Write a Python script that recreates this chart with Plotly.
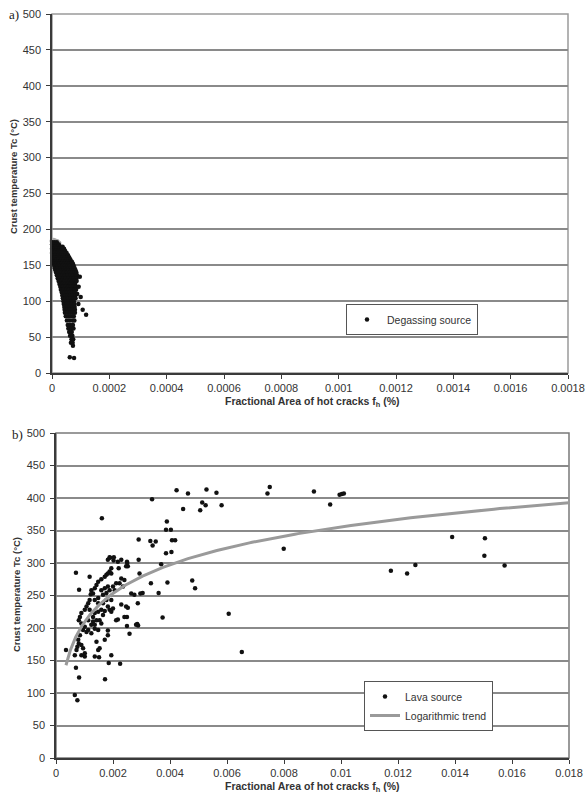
import numpy as np
import plotly.graph_objects as go

# ---------------- data: panel a (degassing source) ----------------
# x in units of 1e-6 (fractional area), y in deg C
DEG_X_MICRO = [
    1, 9, 17,
    0, 7, 15, 24,
    2, 11, 20, 30, 37,
    0, 8, 16, 25, 34, 42,
    3, 12, 21, 29, 38, 46,
    0, 9, 18, 27, 35, 44, 51,
    4, 13, 22, 31, 40, 48, 56,
    1, 10, 19, 28, 37, 45, 53, 60,
    5, 14, 23, 32, 41, 50, 58, 64,
    2, 11, 20, 29, 38, 47, 55, 63, 69,
    6, 15, 24, 33, 42, 51, 60, 68, 73,
    8, 18, 27, 36, 45, 54, 62, 71, 76,
    10, 20, 29, 38, 47, 56, 65, 74, 79,
    12, 22, 31, 40, 49, 58, 67, 76, 82,
    14, 24, 33, 42, 52, 61, 70, 79, 85,
    17, 27, 36, 45, 55, 64, 73, 82, 87,
    20, 30, 39, 48, 58, 67, 76, 85,
    23, 33, 42, 51, 61, 70, 79, 86,
    26, 35, 45, 54, 63, 72, 81,
    29, 38, 47, 56, 66, 75, 83,
    31, 40, 50, 59, 68, 77, 84,
    34, 43, 52, 61, 70, 79,
    36, 45, 54, 63, 72, 81,
    38, 47, 56, 65, 74, 82,
    40, 49, 58, 67, 76,
    41, 50, 59, 68, 78,
    43, 52, 61, 70, 79,
    44, 53, 62, 71, 80,
    45, 54, 63, 72, 80,
    48, 57, 66, 76,
    52, 61, 71, 78,
    55, 64, 73,
    57, 67, 75,
    60, 69,
    63, 71,
    68, 74,
    66, 72,
    73,
    62,
    77,
    97, 93, 100, 107, 119, 92, 88,
]
DEG_Y = [
    182, 182, 182,
    179, 179, 179, 179,
    176, 176, 176, 176, 176,
    173, 173, 173, 173, 173, 173,
    170, 170, 170, 170, 170, 170,
    167, 167, 167, 167, 167, 167, 167,
    164, 164, 164, 164, 164, 164, 164,
    161, 161, 161, 161, 161, 161, 161, 161,
    158, 158, 158, 158, 158, 158, 158, 158,
    155, 155, 155, 155, 155, 155, 155, 155, 155,
    152, 152, 152, 152, 152, 152, 152, 152, 152,
    149, 149, 149, 149, 149, 149, 149, 149, 149,
    146, 146, 146, 146, 146, 146, 146, 146, 146,
    143, 143, 143, 143, 143, 143, 143, 143, 143,
    140, 140, 140, 140, 140, 140, 140, 140, 140,
    136, 136, 136, 136, 136, 136, 136, 136, 136,
    132, 132, 132, 132, 132, 132, 132, 132,
    128, 128, 128, 128, 128, 128, 128, 128,
    124, 124, 124, 124, 124, 124, 124,
    120, 120, 120, 120, 120, 120, 120,
    116, 116, 116, 116, 116, 116, 116,
    112, 112, 112, 112, 112, 112,
    108, 108, 108, 108, 108, 108,
    104, 104, 104, 104, 104, 104,
    100, 100, 100, 100, 100,
    96, 96, 96, 96, 96,
    92, 92, 92, 92, 92,
    88, 88, 88, 88, 88,
    84, 84, 84, 84, 84,
    79, 79, 79, 79,
    73, 73, 73, 73,
    67, 67, 67,
    62, 62, 62,
    57, 57,
    52, 52,
    47, 47,
    42, 42,
    38,
    22,
    21,
    134, 120, 106, 88, 81, 96, 110,
]
# lighter grey markers visible at the edge of the cluster
DEG_GREY_X_MICRO = [0, 6, 12, 18, 24, -1, -1, -1, -1, 69, 70, 69, 70, 69, 70, 69, 70, 69]
DEG_GREY_Y = [184, 185, 184, 183, 181, 178, 170, 162, 154, 155, 148, 142, 136, 130, 124, 118, 112, 106]

# ---------------- data: panel b (lava source) ----------------
LAVA_X = [
    0.00161, 0.00337, 0.00423, 0.00463, 0.00446, 0.00528, 0.00563, 0.00513, 0.00525, 0.00506,
    0.00581, 0.00389, 0.00386, 0.00403, 0.00407, 0.00418, 0.00386, 0.00405, 0.00369, 0.00331,
    0.00339, 0.00350, 0.00290, 0.00290, 0.00182, 0.00190, 0.00202, 0.00229, 0.00249, 0.00252,
    0.00194, 0.00220, 0.00742, 0.00750, 0.00799, 0.00905, 0.00962, 0.00995, 0.01003, 0.01010,
    0.01175, 0.01232, 0.01261, 0.01390, 0.01505, 0.01503, 0.01574, 0.00606, 0.00652, 0.00478,
    0.00488, 0.00374, 0.00360, 0.00333, 0.00391, 0.00293, 0.00287, 0.00285, 0.00288, 0.00258,
    0.00249, 0.00249, 0.00252, 0.00229, 0.00217, 0.00225, 0.00185, 0.00172, 0.00194, 0.00070,
    0.00081, 0.00035, 0.00070, 0.00081, 0.00066, 0.00075,
    0.00250, 0.00246, 0.00188, 0.00217, 0.00203, 0.00304, 0.00296, 0.00275, 0.00264, 0.00246,
    0.00240, 0.00211, 0.00281, 0.00171, 0.00182, 0.00182, 0.00148, 0.00153, 0.00095, 0.00089,
    0.00151, 0.00136, 0.00066, 0.00072, 0.00089, 0.00101, 0.00101, 0.00142,
    0.00118, 0.00124, 0.00136, 0.00142, 0.00148, 0.00159, 0.00171, 0.00177, 0.00182, 0.00188,
    0.00194, 0.00122, 0.00130, 0.00159, 0.00171, 0.00182, 0.00200, 0.00211, 0.00223, 0.00229,
    0.00240, 0.00235, 0.00206, 0.00188, 0.00177, 0.00165, 0.00148, 0.00136, 0.00118, 0.00113,
    0.00107, 0.00118, 0.00101, 0.00089, 0.00084, 0.00080, 0.00089, 0.00101, 0.00113, 0.00124,
    0.00107, 0.00095, 0.00084, 0.00078, 0.00080, 0.00075, 0.00113, 0.00130, 0.00136, 0.00148,
    0.00159, 0.00171, 0.00188, 0.00194, 0.00165, 0.00142, 0.00130, 0.00124, 0.00136, 0.00153,
    0.00159, 0.00148, 0.00165, 0.00177, 0.00194, 0.00182, 0.00200, 0.00148, 0.00136,
]
LAVA_Y = [
    369, 398, 412, 407, 383, 413, 408, 393, 389, 381,
    389, 364, 351, 351, 335, 335, 315, 317, 298, 334,
    327, 333, 336, 305, 305, 308, 304, 305, 302, 295,
    292, 292, 407, 417, 322, 410, 390, 405, 406, 407,
    288, 284, 297, 340, 338, 311, 296, 222, 163, 273,
    261, 216, 254, 269, 270, 284, 238, 206, 204, 191,
    203, 217, 231, 236, 213, 145, 146, 121, 158, 285,
    259, 166, 139, 124, 97, 89,
    300, 295, 309, 302, 309, 254, 253, 251, 253, 233,
    217, 212, 205, 182, 189, 196, 166, 169, 169, 174,
    155, 156, 158, 166, 158, 156, 161, 179,
    279, 258, 261, 266, 271, 275, 279, 282, 284, 287,
    284, 252, 253, 258, 261, 264, 264, 269, 269, 276,
    274, 264, 258, 258, 254, 251, 246, 243, 243, 238,
    233, 228, 228, 223, 217, 212, 207, 202, 197, 192,
    194, 197, 189, 182, 176, 171, 212, 217, 223, 225,
    228, 226, 228, 225, 220, 212, 210, 205, 205, 212,
    207, 238, 238, 243, 243, 233, 230, 197, 199,
]

# logarithmic trend  T = A * ln(f) + B  (coefficients)
TREND_A = 63.5
TREND_B = 648.0
TREND_X_START = 0.00035
TREND_X_END = 0.018

# ---------------- ticks ----------------
TOP_XTICKS = [0, 0.0002, 0.0004, 0.0006, 0.0008, 0.001, 0.0012, 0.0014, 0.0016, 0.0018]
TOP_XTICKTEXT = ["0", "0.0002", "0.0004", "0.0006", "0.0008", "0.001", "0.0012", "0.0014", "0.0016", "0.0018"]
BOT_XTICKS = [0, 0.002, 0.004, 0.006, 0.008, 0.01, 0.012, 0.014, 0.016, 0.018]
BOT_XTICKTEXT = ["0", "0.002", "0.004", "0.006", "0.008", "0.01", "0.012", "0.014", "0.016", "0.018"]
YTICKS = [0, 50, 100, 150, 200, 250, 300, 350, 400, 450, 500]

W, H = 587, 797
FONT = "Liberation Sans, Arial, sans-serif"
TXT = "#333333"

deg_x = [v * 1e-6 for v in DEG_X_MICRO]
deg_grey_x = [v * 1e-6 for v in DEG_GREY_X_MICRO]
trend_x = np.geomspace(TREND_X_START, TREND_X_END, 300)
trend_y = TREND_A * np.log(trend_x) + TREND_B

fig = go.Figure()

fig.add_trace(go.Scatter(
    x=deg_grey_x, y=DEG_GREY_Y, mode="markers", showlegend=False,
    marker=dict(color="#a8a8a8", size=5), cliponaxis=False,
    xaxis="x", yaxis="y", hoverinfo="skip"))
fig.add_trace(go.Scatter(
    x=deg_x, y=DEG_Y, mode="markers", name="Degassing source",
    marker=dict(color="#111111", size=4.5), cliponaxis=False,
    xaxis="x", yaxis="y", legend="legend"))

fig.add_trace(go.Scatter(
    x=LAVA_X, y=LAVA_Y, mode="markers", name="Lava source",
    marker=dict(color="#111111", size=4.5),
    xaxis="x2", yaxis="y2", legend="legend2"))
fig.add_trace(go.Scatter(
    x=trend_x, y=trend_y, mode="lines", name="Logarithmic trend",
    line=dict(color="#9a9a9a", width=3),
    xaxis="x2", yaxis="y2", legend="legend2"))

# plot-area geometry in pixels
TOP_L, TOP_R, TOP_T, TOP_B = 52, 568, 14, 373
BOT_L, BOT_R, BOT_T, BOT_B = 56, 569, 433, 758


def px_x(p):
    return p / W


def px_y(p):
    return 1 - p / H


axis_common = dict(
    showgrid=False, zeroline=False, showline=True, linecolor="#3a3a3a", linewidth=1.5,
    ticks="outside", ticklen=4, tickwidth=1, tickcolor="#3a3a3a", automargin=False,
    tickfont=dict(family=FONT, size=11, color=TXT),
)
yaxis_common = dict(
    axis_common, showgrid=True, gridcolor="#8a8a8a", gridwidth=1.5,
    range=[0, 500], tickvals=YTICKS, ticklabelstandoff=3,
)

ann_font = dict(family=FONT, size=10.5, color=TXT)
yt_font = dict(family=FONT, size=9.5, color=TXT)
lab_font = dict(family="Liberation Serif, serif", size=13, color="#222")

fig.update_layout(
    width=W, height=H, margin=dict(l=0, r=0, t=0, b=0, autoexpand=False),
    paper_bgcolor="white", plot_bgcolor="white",
    xaxis=dict(axis_common, domain=[px_x(TOP_L), px_x(TOP_R)], range=[0, 0.0018],
               tickvals=TOP_XTICKS, ticktext=TOP_XTICKTEXT, anchor="y"),
    yaxis=dict(yaxis_common, domain=[px_y(TOP_B), px_y(TOP_T)], anchor="x"),
    xaxis2=dict(axis_common, domain=[px_x(BOT_L), px_x(BOT_R)], range=[0, 0.018],
                tickvals=BOT_XTICKS, ticktext=BOT_XTICKTEXT, anchor="y2"),
    yaxis2=dict(yaxis_common, domain=[px_y(BOT_B), px_y(BOT_T)], anchor="x2"),
    legend=dict(x=px_x(346), y=px_y(304), xanchor="left", yanchor="top",
                bgcolor="white", bordercolor="#555555", borderwidth=1,
                font=dict(family=FONT, size=10.5, color=TXT),
                itemwidth=30, tracegroupgap=0),
    legend2=dict(x=px_x(364), y=px_y(681), xanchor="left", yanchor="top",
                 bgcolor="white", bordercolor="#555555", borderwidth=1,
                 font=dict(family=FONT, size=10.5, color=TXT),
                 itemwidth=30, tracegroupgap=0),
    shapes=[
        dict(type="rect", xref="paper", yref="paper", layer="below",
             x0=px_x(TOP_L), x1=px_x(TOP_R), y0=px_y(TOP_B), y1=px_y(TOP_T),
             line=dict(color="#9a9a9a", width=1.5)),
        dict(type="rect", xref="paper", yref="paper", layer="below",
             x0=px_x(BOT_L), x1=px_x(BOT_R), y0=px_y(BOT_B), y1=px_y(BOT_T),
             line=dict(color="#7a7a7a", width=1.5)),
    ],
    annotations=[
        dict(text="a)", x=px_x(14), y=px_y(15), xanchor="center", yanchor="middle"),
        dict(text="b)", x=px_x(17), y=px_y(434), xanchor="center", yanchor="middle"),
        dict(text="<b>Fractional Area of hot cracks f<sub>h</sub> (%)</b>", x=px_x(312), y=px_y(402),
             xanchor="center", yanchor="middle", font=ann_font),
        dict(text="<b>Fractional Area of hot cracks f<sub>h</sub> (%)</b>", x=px_x(312), y=px_y(787),
             xanchor="center", yanchor="middle", font=ann_font),
        dict(text="<b>Crust temperature Tc (°C)</b>", x=px_x(14), y=px_y(177), textangle=-90,
             xanchor="center", yanchor="middle", font=yt_font),
        dict(text="<b>Crust temperature Tc (°C)</b>", x=px_x(16), y=px_y(595), textangle=-90,
             xanchor="center", yanchor="middle", font=yt_font),
    ],
)
for i in (0, 1):
    fig.layout.annotations[i].font = lab_font
for a in fig.layout.annotations:
    a.xref = "paper"
    a.yref = "paper"
    a.showarrow = False

fig.write_html("out.html")
